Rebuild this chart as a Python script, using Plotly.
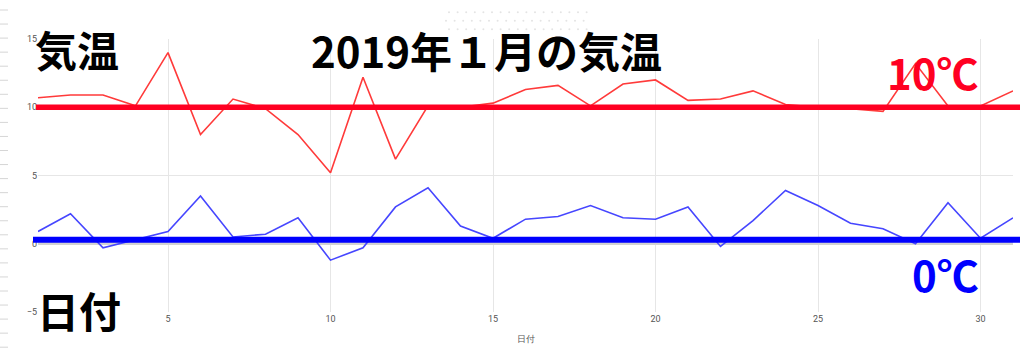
import plotly.graph_objects as go

# ---- data ----
days = list(range(1, 32))
high_temp = [10.7, 10.9, 10.9, 10.1, 14.0, 8.0, 10.6, 9.9, 8.0, 5.2,
             12.2, 6.2, 10.1, 10.0, 10.3, 11.3, 11.6, 10.1, 11.7, 12.0,
             10.5, 10.6, 11.2, 10.2, 10.0, 9.9, 9.7, 13.2, 10.1, 10.1, 11.2]
low_temp = [0.9, 2.2, -0.3, 0.3, 0.9, 3.5, 0.5, 0.7, 1.9, -1.2,
            -0.3, 2.7, 4.1, 1.3, 0.4, 1.8, 2.0, 2.8, 1.9, 1.8,
            2.7, -0.2, 1.7, 3.9, 2.8, 1.5, 1.1, 0.0, 3.0, 0.4, 1.9]
x_ticks = [5, 10, 15, 20, 25, 30]
y_ticks = [-5, 0, 5, 10, 15]
ref_high = 10    # red reference line
ref_low = 0.3    # blue reference line (drawn just above zero)

title_text = "2019年１月の気温"
y_label_text = "気温"
x_label_text = "日付"
high_label = "10℃"
low_label = "0℃"

# ---- layout geometry (pixels) ----
W, H = 1027, 355
L, R, T, B = 38, 14, 39, 43
PW, PH = W - L - R, H - T - B


def px(xp):
    return (xp - L) / PW


def py(yp):
    return (H - B - yp) / PH


fig = go.Figure()
fig.add_trace(go.Scatter(x=days, y=high_temp, mode="lines",
                         line=dict(color="#ff3a3a", width=1.6), showlegend=False))
fig.add_trace(go.Scatter(x=days, y=low_temp, mode="lines",
                         line=dict(color="#4646ff", width=1.6), showlegend=False))

shapes = [
    dict(type="line", xref="paper", yref="y", x0=px(36), x1=px(1020),
         y0=ref_high, y1=ref_high, line=dict(color="#ff0022", width=5.5)),
    dict(type="line", xref="paper", yref="y", x0=px(33), x1=px(1020),
         y0=ref_low, y1=ref_low, line=dict(color="#0000ff", width=6)),
]
# faint ruler marks at the left edge (screenshot artifact)
for i in range(25):
    yy = 10 + 14.05 * i
    shapes.append(dict(type="line", xref="paper", yref="paper",
                       x0=px(0), x1=px(8), y0=py(yy), y1=py(yy),
                       line=dict(color="#d6d6d6", width=1)))
# faint dot pattern at the top (screenshot artifact)
for r, yy in enumerate([12.3, 20.7, 29.3]):
    off = 0 if r != 1 else -3
    for c in range(17):
        xx = 449 + off + 8.6 * c
        shapes.append(dict(type="circle", xref="paper", yref="paper",
                           x0=px(xx - 1), x1=px(xx + 1), y0=py(yy + 1), y1=py(yy - 1),
                           line=dict(width=0), fillcolor="#e4e4e4"))

cjk = "Noto Sans CJK JP"
annotations = [
    dict(text=title_text, xref="paper", yref="paper", x=px(486.5), y=py(50),
         showarrow=False, xanchor="center", yanchor="middle",
         font=dict(family=cjk, size=42, color="#000000", weight=700)),
    dict(text=y_label_text, xref="paper", yref="paper", x=px(76.5), y=py(49),
         showarrow=False, xanchor="center", yanchor="middle",
         font=dict(family=cjk, size=42, color="#000000", weight=700)),
    dict(text=x_label_text, xref="paper", yref="paper", x=px(79), y=py(309),
         showarrow=False, xanchor="center", yanchor="middle",
         font=dict(family=cjk, size=42, color="#000000", weight=700)),
    dict(text=high_label, xref="paper", yref="paper", x=px(981), y=py(71),
         showarrow=False, xanchor="right", yanchor="middle",
         font=dict(family=cjk, size=42, color="#ff0022", weight=700)),
    dict(text=low_label, xref="paper", yref="paper", x=px(981), y=py(273),
         showarrow=False, xanchor="right", yanchor="middle",
         font=dict(family=cjk, size=42, color="#0000ff", weight=700)),
]

fig.update_layout(
    width=W, height=H,
    margin=dict(l=L, r=R, t=T, b=B, pad=0),
    paper_bgcolor="#ffffff", plot_bgcolor="#ffffff",
    shapes=shapes, annotations=annotations, showlegend=False,
    font=dict(family="Roboto, Arial, sans-serif"),
)
fig.update_xaxes(range=[1, 31], tickvals=x_ticks, showgrid=True, gridcolor="#e6e6e6",
                 gridwidth=1, zeroline=False, showline=False, ticks="",
                 tickfont=dict(size=9, color="#555555"),
                 title=dict(text=x_label_text, font=dict(size=9, color="#555555"), standoff=12))
fig.update_yaxes(range=[-5, 15], tickvals=y_ticks, showgrid=True, gridcolor="#e6e6e6",
                 gridwidth=1, zeroline=True, zerolinecolor="#d2d2d2", zerolinewidth=3,
                 showline=False, ticks="", tickfont=dict(size=9, color="#555555"))

fig.write_html("out.html")
